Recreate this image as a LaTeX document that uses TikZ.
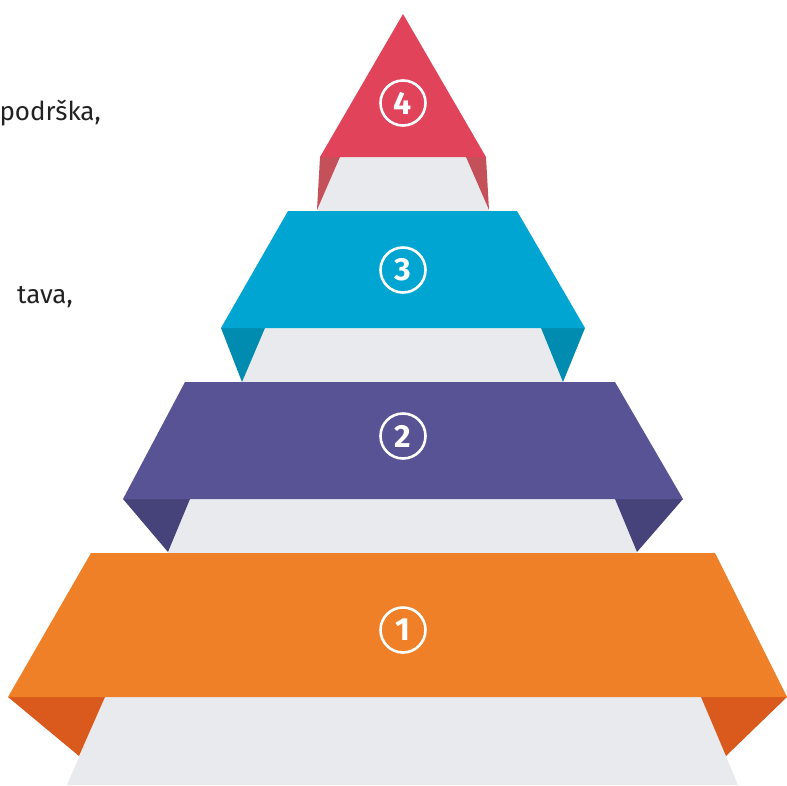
\documentclass[tikz,border=0pt]{standalone}
\usepackage{fontspec}
\setmainfont{Fira Sans}
\definecolor{bandred}{HTML}{E0435A}
\definecolor{flapred}{HTML}{C4505A}
\definecolor{bandblue}{HTML}{01A5D2}
\definecolor{flapblue}{HTML}{008BB0}
\definecolor{bandpurple}{HTML}{575394}
\definecolor{flappurple}{HTML}{46437A}
\definecolor{bandorange}{HTML}{EF8028}
\definecolor{flaporange}{HTML}{DA5A1E}
\definecolor{backgray}{HTML}{E9EAEE}
\definecolor{txt}{HTML}{222222}
\tikzset{
  numcircle/.style={circle, draw=white, line width=2.6pt, minimum size=45pt, inner sep=0pt,
    text=white, font=\fontsize{32}{32}\selectfont\bfseries},
  sidetext/.style={anchor=base east, text=txt, font=\fontsize{26}{26}\selectfont, inner sep=0pt}
}
\begin{document}
\begin{tikzpicture}[x=1pt,y=-1pt]
\useasboundingbox (0,0) rectangle (787,785);
% gray back bands
\fill[backgray] (340,157) -- (466,157) -- (489,211) -- (317,211) -- cycle;
\fill[backgray] (265,328) -- (541,328) -- (563,382) -- (242,382) -- cycle;
\fill[backgray] (190,499) -- (615,499) -- (637,553) -- (168,553) -- cycle;
\fill[backgray] (105,697) -- (701,697) -- (738,785) -- (67,785) -- cycle;
% flaps
\fill[flapred] (320,157) -- (340,157) -- (317,210) -- cycle;
\fill[flapred] (466,157) -- (486,157) -- (489,210) -- cycle;
\fill[flapblue] (221,328) -- (265,328) -- (242,382) -- cycle;
\fill[flapblue] (541,328) -- (585,328) -- (563,382) -- cycle;
\fill[flappurple] (123,499) -- (190,499) -- (168,552) -- cycle;
\fill[flappurple] (615,499) -- (683,499) -- (637,552) -- cycle;
\fill[flaporange] (8,697) -- (105,697) -- (79,756) -- cycle;
\fill[flaporange] (701,697) -- (787,697) -- (726,756) -- cycle;
% bands
\fill[bandred] (403,14) -- (486,157) -- (320,157) -- cycle;
\fill[bandblue] (288,211) -- (517,211) -- (585,328) -- (221,328) -- cycle;
\fill[bandpurple] (185,382) -- (615,382) -- (683,499) -- (123,499) -- cycle;
\fill[bandorange] (91,553) -- (715,553) -- (787,697) -- (8,697) -- cycle;
% numbers
\node[numcircle] (n4) at (403,103) {4};
\node[numcircle] (n3) at (403,270) {3};
\node[numcircle] (n2) at (403,436) {2};
\node[numcircle] (n1) at (403,630) {1};
% side texts
\node[sidetext] (t4) at (101,120) {podrška,};
\node[sidetext] (t3) at (73,303) {tava,};
\end{tikzpicture}
\end{document}
